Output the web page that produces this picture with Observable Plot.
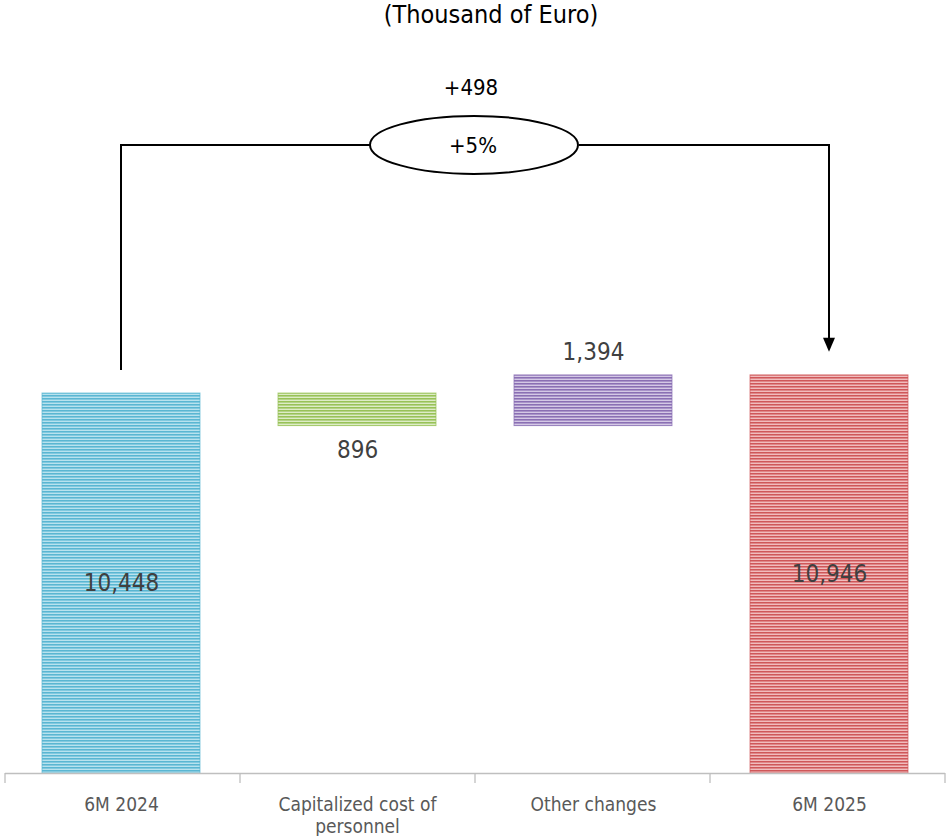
<!DOCTYPE html>
<html><head><meta charset="utf-8">
<script src="https://cdn.jsdelivr.net/npm/d3@7"></script>
<script src="https://cdn.jsdelivr.net/npm/@observablehq/plot@0.6"></script>
<style>
body{margin:0;background:#fff;font-family:"DejaVu Sans Condensed";}
#title{height:32px;line-height:30px;text-align:center;font-size:25px;padding-left:34px;color:#000;}
</style></head><body>
<div id="title">(Thousand of Euro)</div>
<div id="chart"></div>
<script>
// ---- data ----
const categories = ["6M 2024", "Capitalized cost of personnel", "Other changes", "6M 2025"];
const axisLabels = ["6M 2024", "Capitalized cost of\npersonnel", "Other changes", "6M 2025"];
const values = [10448, -896, 1394, 10946];
const kinds = ["total", "delta", "delta", "total"];
const valueLabels = ["10,448", "896", "1,394", "10,946"];
const darkColors = ["#5ab6d2", "#98c257", "#8a6fb3", "#cf5759"];
const midColors = ["#82c9df", "#b4d387", "#a994c9", "#df8789"];
const lightColors = ["#b8e2ee", "#ddecc6", "#d4c8e5", "#f1bcbd"];
const deltaLabel = "+498";
const pctLabel = "+5%";
const bracketLevel = 17270;
const bracketStart = 11080;
const bracketEnd = 11580;
const deltaLabelLevel = 18860;

// ---- build waterfall rows ----
let running = 0;
const rows = categories.map((c, i) => {
  let y1, y2;
  if (kinds[i] === "total") { y1 = 0; y2 = values[i]; running = values[i]; }
  else { const prev = running; running += values[i]; y1 = Math.min(prev, running); y2 = Math.max(prev, running); }
  return {cat: c, i, y1, y2, mid: (y1 + y2) / 2, label: valueLabels[i], value: values[i]};
});

const W = 948, H = 804;

function decorations(index, scales, vals, dims) {
  const x = scales.x, y = scales.y, bw = x.bandwidth();
  const g = d3.create("svg:g");
  // axis ticks at category boundaries
  const [r0, r1] = x.range();
  for (let k = 0; k <= categories.length; k++) {
    const xx = r0 + k * (r1 - r0) / categories.length;
    g.append("line").attr("x1", xx).attr("x2", xx).attr("y1", y(0)).attr("y2", y(0) + 10)
      .attr("stroke", "#bfbfbf").attr("stroke-width", 1.3);
  }
  // bracket connector
  const x0 = x(categories[0]) + bw / 2, x3 = x(categories[categories.length - 1]) + bw / 2;
  const cx = (x0 + x3) / 2, yb = y(bracketLevel), rx = 104, ry = 29;
  const tip = y(bracketEnd);
  g.append("path")
    .attr("d", `M${x0},${y(bracketStart)}V${yb}H${cx - rx}M${cx + rx},${yb}H${x3}V${tip - 12}`)
    .attr("fill", "none").attr("stroke", "#000").attr("stroke-width", 2);
  g.append("path").attr("d", `M${x3 - 6},${tip - 14}L${x3 + 6},${tip - 14}L${x3},${tip}Z`).attr("fill", "#000");
  g.append("ellipse").attr("cx", cx - 1).attr("cy", yb).attr("rx", rx).attr("ry", ry)
    .attr("fill", "#fff").attr("stroke", "#000").attr("stroke-width", 2);
  g.append("text").attr("x", cx - 2).attr("y", yb).attr("dy", "0.36em").attr("text-anchor", "middle")
    .attr("font-size", 22).attr("fill", "#000").text(pctLabel);
  g.append("text").attr("x", cx - 4).attr("y", y(deltaLabelLevel)).attr("dy", "0.36em").attr("text-anchor", "middle")
    .attr("font-size", 22).attr("fill", "#000").text(deltaLabel);
  return g.node();
}

const plot = Plot.plot({
  width: W, height: H,
  marginLeft: 5, marginRight: 3, marginTop: 0, marginBottom: 63,
  x: {domain: categories, paddingInner: 0.332, paddingOuter: 0.153, axis: null, label: null},
  y: {domain: [0, 20374], axis: null},
  style: {fontFamily: "DejaVu Sans Condensed", background: "#fff", overflow: "visible"},
  marks: [
    ...rows.map(r => Plot.barY([r], {x: "cat", y1: "y1", y2: "y2", fill: `url(#pat${r.i})`,
      stroke: darkColors[r.i], strokeWidth: 1, strokeOpacity: 0.7, inset: 0})),
    Plot.ruleY([0], {stroke: "#bfbfbf", strokeWidth: 1.3}),
    Plot.axisX({tickSize: 0, tickPadding: 22, fontSize: 19, lineHeight: 1.15, color: "#595959", label: null,
      tickFormat: d => axisLabels[categories.indexOf(d)]}),
    Plot.text(rows.filter(r => kinds[r.i] === "total"), {x: "cat", y: "mid", text: "label", fontSize: 24, fill: "#404040"}),
    Plot.text(rows.filter(r => kinds[r.i] === "delta" && r.value < 0), {x: "cat", y: "y1", text: "label", dy: 24, fontSize: 24, fill: "#404040"}),
    Plot.text(rows.filter(r => kinds[r.i] === "delta" && r.value >= 0), {x: "cat", y: "y2", text: "label", dy: -23, fontSize: 24, fill: "#404040"}),
    decorations
  ]
});

// stripe patterns
const defs = d3.select(plot).insert("defs", ":first-child");
rows.forEach(r => {
  const p = defs.append("pattern").attr("id", `pat${r.i}`).attr("patternUnits", "userSpaceOnUse")
    .attr("width", 6).attr("height", 3);
  p.append("rect").attr("width", 6).attr("height", 1).attr("y", 0).attr("fill", darkColors[r.i]);
  p.append("rect").attr("width", 6).attr("height", 1).attr("y", 1).attr("fill", midColors[r.i]);
  p.append("rect").attr("width", 6).attr("height", 1).attr("y", 2).attr("fill", lightColors[r.i]);
});

document.getElementById("chart").appendChild(plot);
</script>
</body></html>
